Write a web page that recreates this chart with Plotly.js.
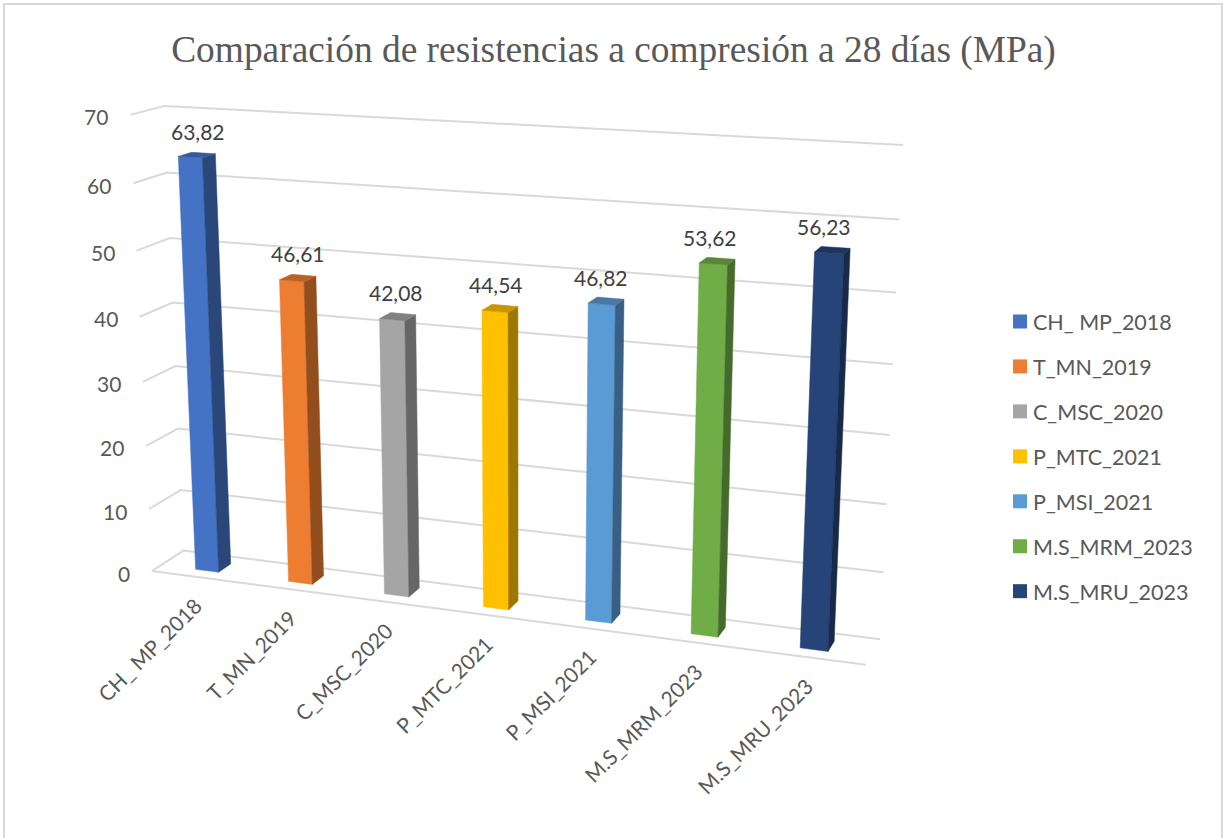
<!DOCTYPE html>
<html>
<head>
<meta charset="utf-8">
<script src="https://cdn.plot.ly/plotly-3.0.1.min.js"></script>
<style>html,body{margin:0;padding:0;background:#fff}#chart{width:1223px;height:838px}</style>
</head>
<body>
<div id="chart"></div>
<script>
// Resistencia a compresión a 28 días (MPa) por mezcla
const categories = ['CH_ MP_2018','T_MN_2019','C_MSC_2020','P_MTC_2021','P_MSI_2021','M.S_MRM_2023','M.S_MRU_2023'];
const strengths = [63.82,46.61,42.08,44.54,46.82,53.62,56.23];
const faceColors = ['#4472C4','#ED7D31','#A5A5A5','#FFC000','#5B9BD5','#70AD47','#264478'];
const valueTicks = [0,10,20,30,40,50,60,70];
const valueMax = 70;

const W = 1223, H = 838;
const textGrey = '#595959', gridGrey = '#D9D9D9';
const sans = 'Lato, Carlito, Calibri, sans-serif';

// The box is a unit cube (across, depth, height) seen through a pinhole camera.
// The camera is solved by least squares from where the box corners fall on the page.
const boxAnchors = [
  [0,0,0,152,571],[1,0,0,866,664.7],[0,1,0,183,550.7],[1,1,0,880,639.3],
  [0,0,1,130,115],[0,1,1,164,105.7],[1,1,1,903,145],
  [0,1,10/70,181,490],[1,1,10/70,883.3,572.3],
  [0,1,50/70,170,238],[1,1,50/70,896,292.7],
  [0,1,60/70,167,172.7],[1,1,60/70,900,219.3]
];

function solveCamera(anchors) {
  const n = 11, A = Array.from({length:n},()=>new Array(n+1).fill(0));
  const add = (row, rhs) => {
    for (let i=0;i<n;i++) { for (let j=0;j<n;j++) A[i][j]+=row[i]*row[j]; A[i][n]+=row[i]*rhs; }
  };
  anchors.forEach(([x,y,z,u,v]) => {
    const s=u/1000, t=v/1000;
    add([x,y,z,1,0,0,0,0,-s*x,-s*y,-s*z], s);
    add([0,0,0,0,x,y,z,1,-t*x,-t*y,-t*z], t);
  });
  for (let c=0;c<n;c++) {
    let p=c; for (let r=c+1;r<n;r++) if (Math.abs(A[r][c])>Math.abs(A[p][c])) p=r;
    [A[c],A[p]]=[A[p],A[c]];
    for (let r=0;r<n;r++) if (r!==c) {
      const f=A[r][c]/A[c][c];
      for (let k=c;k<=n;k++) A[r][k]-=f*A[c][k];
    }
  }
  return A.map((row,i)=>row[n]/row[i]);
}
const cam = solveCamera(boxAnchors);
function project(x,y,z) {
  const d = cam[8]*x+cam[9]*y+cam[10]*z+1;
  return [1000*(cam[0]*x+cam[1]*y+cam[2]*z+cam[3])/d, 1000*(cam[4]*x+cam[5]*y+cam[6]*z+cam[7])/d];
}
const at = (across, depth, value) => project(across, depth, value/valueMax);

const shade = (hex,f) => {
  const n=parseInt(hex.slice(1),16);
  return 'rgb('+[(n>>16)&255,(n>>8)&255,n&255].map(c=>Math.round(c*f)).join(',')+')';
};
const polyTrace = (pts, color) => ({
  type:'scatter', mode:'lines', x:[...pts.map(p=>p[0]),pts[0][0]], y:[...pts.map(p=>p[1]),pts[0][1]],
  fill:'toself', fillcolor:color, line:{width:0.5,color:color}, showlegend:false, hoverinfo:'skip'
});

const traces = [];

// Gridlines run along the left wall and then the back wall; the floor closes at the front.
valueTicks.forEach(v => {
  const pts=[at(0,0,v),at(0,1,v),at(1,1,v)];
  traces.push({type:'scatter',mode:'lines',x:pts.map(p=>p[0]),y:pts.map(p=>p[1]),
    line:{color:gridGrey,width:2},showlegend:false,hoverinfo:'skip'});
});
const floorFront=[at(0,0,0),at(1,0,0)];
traces.push({type:'scatter',mode:'lines',x:floorFront.map(p=>p[0]),y:floorFront.map(p=>p[1]),
  line:{color:gridGrey,width:2},showlegend:false,hoverinfo:'skip'});

// Each column: front, side and top faces
const nCat = categories.length;
const barShare = 0.25, depthFront = 0.3, depthBack = 0.7;
const annotations = [];
categories.forEach((name,i) => {
  const v=strengths[i], c=(i+0.5)/nCat, half=barShare/nCat/2, x0=c-half, x1=c+half;
  traces.push(polyTrace([at(x0,depthFront,0),at(x1,depthFront,0),at(x1,depthFront,v),at(x0,depthFront,v)],faceColors[i]));
  traces.push(polyTrace([at(x1,depthFront,0),at(x1,depthBack,0),at(x1,depthBack,v),at(x1,depthFront,v)],shade(faceColors[i],0.62)));
  traces.push(polyTrace([at(x0,depthFront,v),at(x1,depthFront,v),at(x1,depthBack,v),at(x0,depthBack,v)],shade(faceColors[i],0.78)));

  const top=at(c,0.5,v);
  annotations.push({x:top[0]+1.5-1.7*i,y:top[1]-24,text:v.toFixed(2).replace('.',','),showarrow:false,
    xanchor:'center',yanchor:'middle',font:{family:sans,size:21,color:'#404040'}});

  const foot=at(c,0,0);
  annotations.push({x:foot[0]+11.5,y:foot[1]+13,text:name,showarrow:false,textangle:-45,
    xanchor:'right',yanchor:'top',font:{family:sans,size:21,color:textGrey}});
});

// Value axis labels sit just left of the wall ticks
valueTicks.forEach(v => {
  const p=at(0,0,v);
  annotations.push({x:p[0]-20,y:p[1]+2,text:String(v),showarrow:false,xanchor:'right',yanchor:'middle',
    font:{family:sans,size:21,color:textGrey}});
});

// Legend-only swatches, one group per mix
categories.forEach((name,i) => traces.push({
  type:'scatter',mode:'markers',x:[null],y:[null],name:name,legendgroup:name,
  marker:{symbol:'square',size:14,color:faceColors[i]},hoverinfo:'skip'
}));

const layout = {
  width:W,height:H,margin:{l:0,r:0,t:0,b:0},paper_bgcolor:'#fff',plot_bgcolor:'#fff',
  title:{text:'Comparación de resistencias a compresión a 28 días (MPa)',
    font:{family:'"Liberation Serif","Times New Roman",serif',size:37.4,color:textGrey},
    x:613.5/W,xanchor:'center',y:1-49/H,yanchor:'middle'},
  xaxis:{range:[0,W],visible:false,fixedrange:true},
  yaxis:{range:[H,0],visible:false,fixedrange:true},
  showlegend:true,
  legend:{x:993/W,xanchor:'left',y:1-301/H,yanchor:'top',traceorder:'grouped',tracegroupgap:14,
    font:{family:sans,size:21.5,color:textGrey},bgcolor:'rgba(0,0,0,0)',itemclick:false,itemdoubleclick:false},
  annotations:annotations,
  shapes:[{type:'rect',xref:'x',yref:'y',x0:4,y0:4,x1:1222,y1:845,line:{color:gridGrey,width:2},layer:'below'}]
};
Plotly.newPlot('chart',traces,layout,{displayModeBar:false,staticPlot:true}).then(gd => {
  // Pull the swatches closer to their labels than the default legend spacing allows
  gd.querySelectorAll('.legend .legendsymbols').forEach(g => g.setAttribute('transform','translate(7,0)'));
});
</script>
</body>
</html>
